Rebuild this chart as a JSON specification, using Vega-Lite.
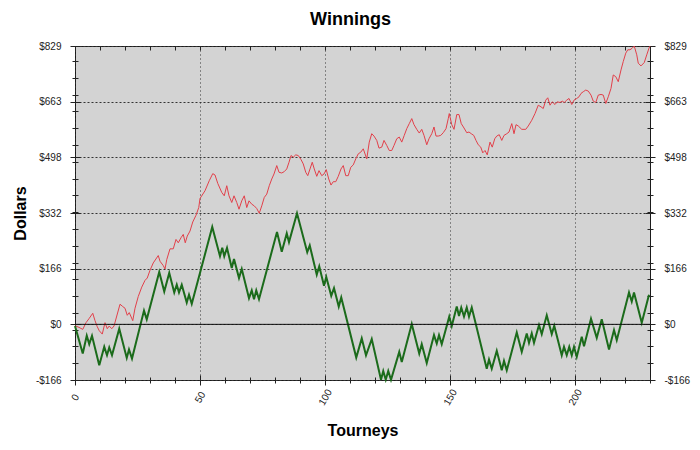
{
  "$schema": "https://vega.github.io/schema/vega-lite/v6.json",
  "width": 575,
  "height": 334,
  "autosize": "none",
  "padding": {"left": 75, "top": 46, "right": 50, "bottom": 70},
  "background": "white",
  "title": {"text": "Winnings", "font": "Liberation Sans", "fontSize": 18, "fontWeight": "bold", "color": "#000", "frame": "group", "anchor": "middle", "offset": 12, "dx": -12},
  "config": {
    "view": {"fill": "#d3d3d3", "stroke": "#1a1a1a", "strokeWidth": 1},
    "axis": {"labelFont": "Liberation Sans", "labelFontSize": 10, "labelColor": "#222", "titleFont": "Liberation Sans", "titleFontSize": 16, "titleFontWeight": "bold", "titleColor": "#000", "tickColor": "#222", "domain": false}
  },
  "datasets": {
    "red": [
      {"t":0,"v":-4},{"t":1.6,"v":-9},{"t":3.1,"v":-15},{"t":4.4,"v":5},{"t":5.7,"v":18},{"t":7.1,"v":33},{"t":8,"v":11},{"t":8.9,"v":-7},{"t":9.7,"v":-19},{"t":10.9,"v":-29},{"t":12,"v":5},{"t":12.9,"v":-13},{"t":13.7,"v":-5},{"t":14.7,"v":-13},{"t":15.6,"v":-5},{"t":18,"v":60},{"t":19.1,"v":53},{"t":20,"v":48},{"t":20.9,"v":27},{"t":21.7,"v":35},{"t":23.1,"v":11},{"t":24,"v":48},{"t":25.3,"v":83},{"t":26.7,"v":111},{"t":28,"v":131},{"t":28.9,"v":138},{"t":30,"v":161},{"t":31.3,"v":183},{"t":33.3,"v":205},{"t":34,"v":188},{"t":35.3,"v":175},{"t":36,"v":165},{"t":36.7,"v":193},{"t":38,"v":225},{"t":39.3,"v":225},{"t":40.4,"v":253},{"t":41.3,"v":243},{"t":42.4,"v":258},{"t":43.3,"v":268},{"t":44.1,"v":243},{"t":44.9,"v":263},{"t":46,"v":278},{"t":47.1,"v":305},{"t":48.4,"v":325},{"t":49.5,"v":348},{"t":50,"v":375},{"t":52,"v":398},{"t":53.7,"v":428},{"t":55.1,"v":449},
      {"t":56,"v":445},{"t":57.1,"v":420},{"t":58.7,"v":393},{"t":59.7,"v":383},{"t":60.7,"v":413},{"t":61.6,"v":383},{"t":62.7,"v":363},{"t":63.6,"v":383},{"t":64.7,"v":363},{"t":65.6,"v":343},{"t":66.7,"v":368},{"t":67.7,"v":383},{"t":68.7,"v":348},{"t":69.6,"v":368},{"t":70.7,"v":358},{"t":71.7,"v":353},{"t":72.7,"v":345},{"t":73.7,"v":331},{"t":74.7,"v":353},{"t":75.7,"v":378},{"t":76.7,"v":388},{"t":77.7,"v":413},{"t":78.7,"v":433},{"t":79.6,"v":448},{"t":80.7,"v":473},{"t":81.6,"v":453},{"t":82.7,"v":451},{"t":83.7,"v":455},{"t":84.7,"v":463},{"t":85.6,"v":483},{"t":86.4,"v":503},{"t":87.3,"v":498},{"t":88.3,"v":505},{"t":89.3,"v":503},{"t":90.4,"v":491},{"t":91.3,"v":478},{"t":92.3,"v":453},{"t":93.1,"v":443},{"t":94,"v":463},{"t":94.9,"v":483},{"t":95.7,"v":463},{"t":96.7,"v":441},{"t":97.6,"v":458},{"t":98.7,"v":443},{"t":99.6,"v":448},{"t":100.5,"v":461},{"t":101.5,"v":433},{"t":102.4,"v":415},{"t":103.3,"v":425},{"t":104.3,"v":425},{"t":105.3,"v":441},{"t":106.4,"v":463},{"t":107.3,"v":473},{"t":108.3,"v":443},{"t":109.3,"v":443},{"t":110.3,"v":468},{"t":111.3,"v":475},{"t":112.3,"v":493},{"t":113.3,"v":508},
      {"t":114.3,"v":513},{"t":115.3,"v":523},{"t":116.7,"v":493},{"t":117.7,"v":543},{"t":118.7,"v":568},{"t":119.6,"v":561},{"t":120.7,"v":548},{"t":121.6,"v":525},{"t":122.7,"v":528},{"t":123.6,"v":548},{"t":124.7,"v":533},{"t":125.7,"v":518},{"t":126.7,"v":518},{"t":127.6,"v":533},{"t":128.7,"v":553},{"t":129.7,"v":558},{"t":130.7,"v":543},{"t":131.7,"v":563},{"t":132.7,"v":583},{"t":133.7,"v":598},{"t":134.7,"v":613},{"t":135.6,"v":595},{"t":136.7,"v":581},{"t":137.7,"v":570},{"t":138.7,"v":581},{"t":139.6,"v":563},{"t":140.7,"v":535},{"t":141.6,"v":553},{"t":142.7,"v":568},{"t":143.6,"v":588},{"t":144.4,"v":561},{"t":145.3,"v":561},{"t":146.3,"v":563},{"t":147.3,"v":571},{"t":148.4,"v":583},{"t":149.3,"v":613},{"t":149.7,"v":628},{"t":150.7,"v":595},{"t":151.6,"v":581},{"t":152.7,"v":625},{"t":153.6,"v":625},{"t":154.5,"v":598},{"t":155.6,"v":585},{"t":156.7,"v":571},{"t":157.6,"v":573},{"t":158.5,"v":568},{"t":159.5,"v":563},{"t":160.4,"v":548},{"t":161.3,"v":535},{"t":162.3,"v":528},{"t":163.1,"v":511},{"t":164,"v":518},{"t":164.9,"v":505},{"t":166,"v":543},{"t":166.9,"v":528},{"t":167.9,"v":553},{"t":168.7,"v":561},{"t":169.7,"v":565},{"t":170.7,"v":548},{"t":171.6,"v":563},{"t":172.7,"v":568},{"t":173.6,"v":573},
      {"t":174.7,"v":598},{"t":175.6,"v":568},{"t":176.4,"v":595},{"t":177.3,"v":591},{"t":178.7,"v":581},{"t":180.3,"v":581},{"t":181.3,"v":591},{"t":182.7,"v":608},{"t":184,"v":628},{"t":185.3,"v":653},{"t":186.4,"v":648},{"t":187.3,"v":643},{"t":188.3,"v":668},{"t":189.1,"v":675},{"t":190,"v":653},{"t":190.9,"v":663},{"t":192,"v":655},{"t":192.9,"v":663},{"t":194,"v":661},{"t":194.9,"v":665},{"t":195.7,"v":661},{"t":196.7,"v":668},{"t":197.6,"v":673},{"t":198.7,"v":655},{"t":199.6,"v":668},{"t":200.7,"v":673},{"t":201.6,"v":678},{"t":202.4,"v":688},{"t":203.3,"v":693},{"t":204.3,"v":698},{"t":205.3,"v":695},{"t":206.4,"v":683},{"t":207.3,"v":665},{"t":208.3,"v":661},{"t":209.3,"v":683},{"t":210.4,"v":685},{"t":211.3,"v":683},{"t":212.3,"v":658},{"t":213.3,"v":678},{"t":214.4,"v":703},{"t":215.3,"v":743},{"t":216.3,"v":738},{"t":217.3,"v":723},{"t":218.4,"v":758},{"t":219.3,"v":783},{"t":220.3,"v":808},{"t":221.1,"v":818},{"t":222,"v":818},{"t":222.9,"v":823},{"t":223.7,"v":829},{"t":224.7,"v":803},{"t":225.3,"v":778},{"t":226.4,"v":770},{"t":227.7,"v":780},{"t":228.7,"v":803},{"t":229.6,"v":823},{"t":230,"v":829}
    ],
    "green": [
      {"t":0,"v":-5},{"t":3.1,"v":-87},{"t":4.7,"v":-34},{"t":5.7,"v":-59},{"t":6.8,"v":-34},{"t":9.7,"v":-122},{"t":11.7,"v":-67},{"t":12.8,"v":-92},{"t":13.7,"v":-69},{"t":14.8,"v":-92},{"t":17.7,"v":-13},{"t":20.7,"v":-100},{"t":21.6,"v":-75},{"t":22.8,"v":-102},{"t":27.6,"v":41},{"t":28.7,"v":15},{"t":33.7,"v":156},{"t":35.7,"v":98},{"t":37.7,"v":153},{"t":39.7,"v":95},{"t":40.7,"v":118},{"t":41.6,"v":95},{"t":42.7,"v":118},{"t":44.7,"v":65},{"t":45.6,"v":88},{"t":46.7,"v":61},{"t":54.9,"v":290},
      {"t":58,"v":203},{"t":58.9,"v":228},{"t":59.7,"v":203},{"t":60.8,"v":228},{"t":62.7,"v":168},{"t":63.6,"v":195},{"t":65.6,"v":138},{"t":66.7,"v":165},{"t":69.6,"v":78},{"t":70.7,"v":101},{"t":71.6,"v":75},{"t":72.5,"v":101},{"t":73.6,"v":75},{"t":80.8,"v":275},{"t":82.7,"v":216},{"t":84.7,"v":271},{"t":85.6,"v":245},{"t":88.8,"v":331},{"t":92.9,"v":215},{"t":93.9,"v":235},{"t":96.7,"v":148},{"t":97.7,"v":173},{"t":99.6,"v":115},{"t":100.5,"v":141},{"t":102.5,"v":85},{"t":103.6,"v":108},{"t":105.5,"v":53},{"t":106.5,"v":80},{"t":112.5,"v":-99},{"t":114.7,"v":-42},
      {"t":116.4,"v":-92},{"t":118.7,"v":-44},{"t":122.4,"v":-165},{"t":123.3,"v":-139},{"t":124.3,"v":-165},{"t":125.3,"v":-139},{"t":126.4,"v":-165},{"t":129.7,"v":-82},{"t":130.7,"v":-112},{"t":134.7,"v":1},{"t":137.7,"v":-87},{"t":138.7,"v":-59},{"t":140.7,"v":-115},{"t":143.6,"v":-32},{"t":144.7,"v":-57},{"t":145.6,"v":-32},{"t":146.7,"v":-59},{"t":149.7,"v":23},{"t":150.7,"v":-5},{"t":152.7,"v":53},{"t":153.6,"v":25},{"t":154.5,"v":50},{"t":155.6,"v":23},{"t":156.7,"v":50},{"t":157.6,"v":23},{"t":158.7,"v":50},{"t":164.7,"v":-132},{"t":165.6,"v":-105},{"t":166.7,"v":-132},{"t":168.7,"v":-79},{"t":170.7,"v":-137},{"t":171.6,"v":-109},{"t":172.7,"v":-137},
      {"t":176.7,"v":-24},{"t":178.7,"v":-82},{"t":180.7,"v":-27},{"t":181.6,"v":-55},{"t":182.7,"v":-27},{"t":183.6,"v":-55},{"t":185.6,"v":-2},{"t":186.7,"v":-29},{"t":188.7,"v":27},{"t":190.7,"v":-29},{"t":191.7,"v":-4},{"t":194.7,"v":-92},{"t":195.6,"v":-67},{"t":196.7,"v":-92},{"t":197.7,"v":-67},{"t":198.7,"v":-92},{"t":199.6,"v":-67},{"t":200.7,"v":-97},{"t":202.7,"v":-37},{"t":203.6,"v":-65},{"t":206.4,"v":17},{"t":208.7,"v":-40},{"t":210.7,"v":15},{"t":213.6,"v":-75},{"t":215.6,"v":-17},{"t":216.7,"v":-47},{"t":221.6,"v":95},{"t":222.7,"v":68},{"t":223.6,"v":95},{"t":226.7,"v":5},{"t":229.6,"v":88}
    ]
  },
  "layer": [
    {
      "data": {"name": "red"},
      "mark": {"type": "line", "color": "#e2404a", "strokeWidth": 1},
      "encoding": {
        "x": {"field": "t", "type": "quantitative", "scale": {"domain": [0, 230], "nice": false, "zero": false},
          "axis": {"orient": "bottom", "values": [0, 50, 100, 150, 200], "title": "Tourneys", "ticks": false, "tickSize": 0, "grid": true, "gridDash": [1, 3], "gridColor": "#333", "gridWidth": 1, "labelAngle": -60, "labelAlign": "center", "labelBaseline": "middle", "labelPadding": 17, "titleY": 55, "titleBaseline": "alphabetic"}},
        "y": {"field": "v", "type": "quantitative", "scale": {"domain": [-165.8, 829.3], "nice": false, "zero": false},
          "axis": {"orient": "left", "values": [-165.8, 0.05, 165.9, 331.75, 497.6, 663.45, 829.3], "labelExpr": "(datum.value < 0 ? '-$' : '$') + format(abs(datum.value), '.0f')", "title": "Dollars", "ticks": false, "tickSize": 0, "labelPadding": 14, "grid": true, "gridDash": [2, 2], "gridColor": "#333", "gridWidth": 1, "titleX": -55, "titleY": 167, "titleAngle": -90, "titleBaseline": "middle", "titleAlign": "center"}}
      }
    },
    {
      "data": {"name": "green"},
      "mark": {"type": "line", "color": "#1b6b1b", "strokeWidth": 2},
      "encoding": {
        "x": {"field": "t", "type": "quantitative", "scale": {"domain": [0, 230], "nice": false, "zero": false},
          "axis": {"orient": "bottom", "values": [0,10,20,30,40,50,60,70,80,90,100,110,120,130,140,150,160,170,180,190,200,210,220,230], "labels": false, "grid": false, "title": null, "ticks": true, "tickSize": 6, "offset": -3}},
        "y": {"field": "v", "type": "quantitative", "scale": {"domain": [-165.8, 829.3], "nice": false, "zero": false},
          "axis": {"orient": "right", "values": [-165.8, 0.05, 165.9, 331.75, 497.6, 663.45, 829.3], "labelExpr": "(datum.value < 0 ? '-$' : '$') + format(abs(datum.value), '.0f')", "title": null, "ticks": false, "tickSize": 0, "labelPadding": 14, "grid": false}}
      }
    },
    {
      "data": {"values": [{}]},
      "mark": {"type": "rule", "color": "#111", "strokeWidth": 1},
      "encoding": {
        "y": {"datum": 0, "type": "quantitative", "scale": {"domain": [-165.8, 829.3], "nice": false, "zero": false},
          "axis": {"orient": "left", "values": [-165.8,-115.8,-65.8,-15.8,34.2,84.2,134.2,184.2,234.2,284.2,334.2,384.2,434.2,484.2,534.2,584.2,634.2,684.2,734.2,784.2], "labels": false, "grid": false, "title": null, "ticks": true, "tickSize": 6, "offset": -3}}
      }
    },
    {
      "data": {"values": [{}]},
      "mark": {"type": "point", "opacity": 0, "size": 0},
      "encoding": {
        "x": {"datum": 0, "type": "quantitative", "scale": {"domain": [0, 230], "nice": false, "zero": false},
          "axis": {"orient": "top", "values": [0,10,20,30,40,50,60,70,80,90,100,110,120,130,140,150,160,170,180,190,200,210,220,230], "labels": false, "grid": false, "title": null, "ticks": true, "tickSize": 4, "offset": -4}},
        "y": {"datum": 0, "type": "quantitative", "scale": {"domain": [-165.8, 829.3], "nice": false, "zero": false},
          "axis": {"orient": "right", "values": [-165.8,-115.8,-65.8,-15.8,34.2,84.2,134.2,184.2,234.2,284.2,334.2,384.2,434.2,484.2,534.2,584.2,634.2,684.2,734.2,784.2], "labels": false, "grid": false, "title": null, "ticks": true, "tickSize": 6, "offset": -3}}
      }
    },
    {
      "data": {"values": [{}]},
      "mark": {"type": "point", "opacity": 0, "size": 0},
      "encoding": {
        "x": {"datum": 0, "type": "quantitative", "scale": {"domain": [0, 230], "nice": false, "zero": false},
          "axis": {"orient": "bottom", "values": [0, 50, 100, 150, 200], "labels": false, "grid": false, "title": null, "ticks": true, "tickSize": 10, "offset": -5}},
        "y": {"datum": 0, "type": "quantitative", "scale": {"domain": [-165.8, 829.3], "nice": false, "zero": false},
          "axis": {"orient": "left", "values": [-165.8, 0.05, 165.9, 331.75, 497.6, 663.45, 829.3], "labels": false, "grid": false, "title": null, "ticks": true, "tickSize": 10, "offset": -5}}
      }
    },
    {
      "data": {"values": [{}]},
      "mark": {"type": "point", "opacity": 0, "size": 0},
      "encoding": {
        "y": {"datum": 0, "type": "quantitative", "scale": {"domain": [-165.8, 829.3], "nice": false, "zero": false},
          "axis": {"orient": "right", "values": [-165.8, 0.05, 165.9, 331.75, 497.6, 663.45, 829.3], "labels": false, "grid": false, "title": null, "ticks": true, "tickSize": 10, "offset": -5}}
      }
    }
  ],
  "resolve": {"axis": {"x": "independent", "y": "independent"}}
}
